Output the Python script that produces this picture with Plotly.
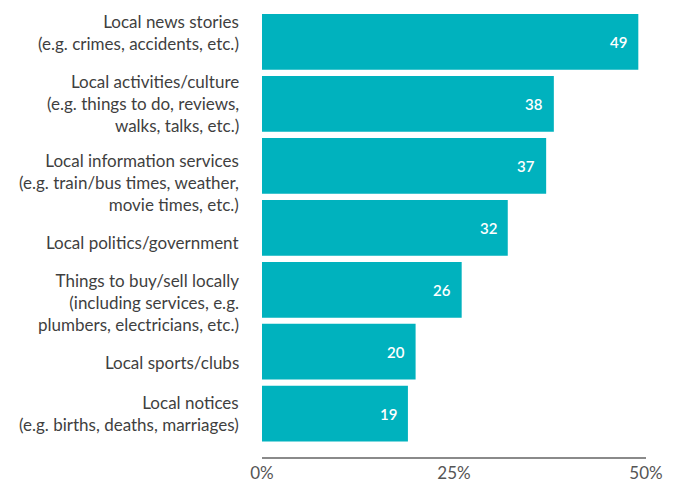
import plotly.graph_objects as go

# Survey categories (top to bottom) and share of respondents (%)
categories = [
    "Local news stories<br>(e.g. crimes, accidents, etc.)",
    "Local activities/culture<br>(e.g. things to do, reviews,<br>walks, talks, etc.)",
    "Local information services<br>(e.g. train/bus times, weather,<br>movie times, etc.)",
    "Local politics/government",
    "Things to buy/sell locally<br>(including services, e.g.<br>plumbers, electricians, etc.)",
    "Local sports/clubs",
    "Local notices<br>(e.g. births, deaths, marriages)",
]
values = [49, 38, 37, 32, 26, 20, 19]
tick_vals = [0, 25, 50]
tick_text = ["0%", "25%", "50%"]

# the original labels are not exactly centred on their bars
label_shift = [9, 0, -17, -15, -13, -11, 0]

teal = "#00B2BE"
text_col = "#3f3f3f"

fig = go.Figure(go.Bar(
    y=categories,
    x=values,
    orientation="h",
    marker=dict(color=teal, line=dict(width=0)),
    hoverinfo="skip",
))

# value labels inside the bar end
for cat, v in zip(categories, values):
    fig.add_annotation(
        x=v, y=cat, text=str(v), showarrow=False,
        xanchor="right", xshift=-9,
        font=dict(family="Lato", size=15, color="white", weight=600),
    )

# category labels to the left of the bars
for cat, dy in zip(categories, label_shift):
    fig.add_annotation(
        x=0, xref="paper", y=cat, text=cat, showarrow=False,
        xanchor="right", align="right", xshift=-21, yshift=dy,
        font=dict(family="Lato", size=17, color=text_col),
    )

# page body has an 8px default margin, so the figure is sized to fit
fig.update_layout(
    template="none",
    width=673, height=471,
    margin=dict(l=254, r=35, t=3, b=22),
    bargap=0.1,
    paper_bgcolor="white",
    plot_bgcolor="white",
    font=dict(family="Lato", color=text_col),
    showlegend=False,
    xaxis=dict(
        range=[0, 50], tickvals=tick_vals, ticktext=tick_text,
        showgrid=False, zeroline=False,
        showline=True, linecolor="#8a8a8a", linewidth=1.5,
        ticks="", tickfont=dict(size=17, color="#555555"),
        automargin=False, fixedrange=True,
    ),
    yaxis=dict(
        categoryorder="array", categoryarray=categories,
        range=[6.7, -0.5],
        showgrid=False, zeroline=False, showline=False, ticks="",
        showticklabels=False,
        automargin=False, fixedrange=True,
    ),
)

fig.write_html("out.html")
